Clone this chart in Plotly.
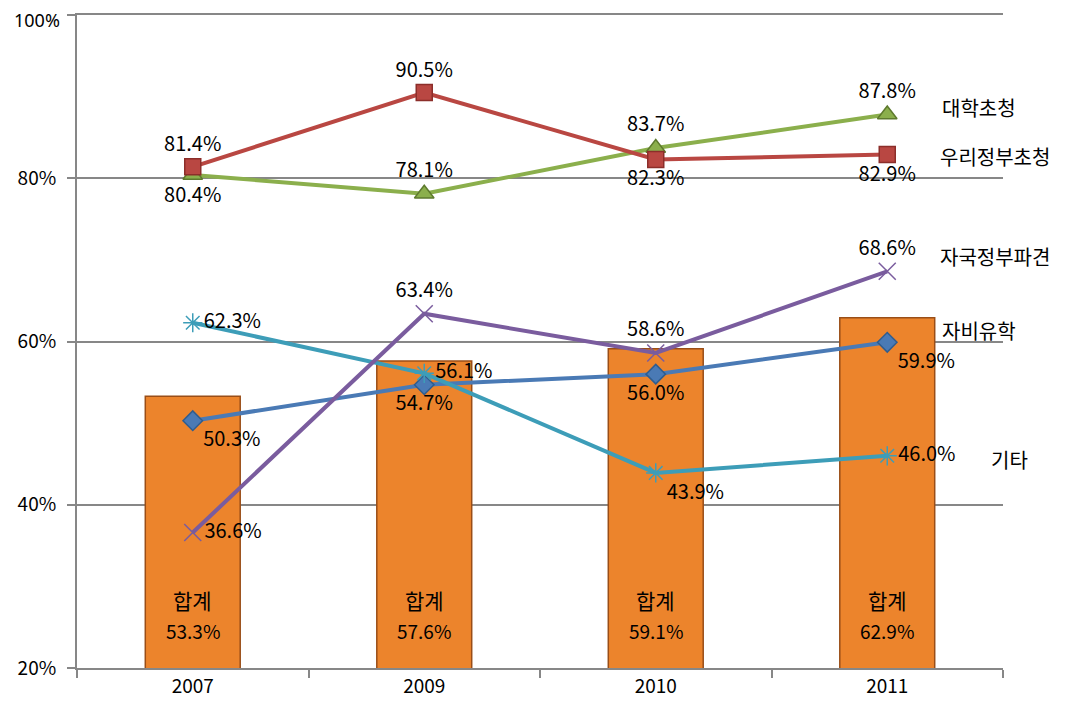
import plotly.graph_objects as go

years = ["2007", "2009", "2010", "2011"]
total = [53.3, 57.6, 59.1, 62.9]
univ_invite = [80.4, 78.1, 83.7, 87.8]      # 대학초청
gov_invite = [81.4, 90.5, 82.3, 82.9]       # 우리정부초청
home_gov = [36.6, 63.4, 58.6, 68.6]         # 자국정부파견
self_funded = [50.3, 54.7, 56.0, 59.9]      # 자비유학
other = [62.3, 56.1, 43.9, 46.0]            # 기타
y_ticks = [20, 40, 60, 80, 100]

FONT = "Noto Sans CJK KR, Noto Sans, sans-serif"
GRID = "#878787"

fig = go.Figure()

fig.add_trace(go.Bar(
    x=years, y=total, width=0.41,
    marker=dict(color="#EC842C", line=dict(color="#9A4E17", width=1.5)),
    hoverinfo="skip", showlegend=False,
))

def line(name, vals, color, symbol, size, positions, mline=None):
    fig.add_trace(go.Scatter(
        x=years, y=vals, name=name, mode="lines+markers+text",
        line=dict(color=color, width=4),
        marker=dict(symbol=symbol, size=size, color=color,
                    line=dict(color=mline or color, width=1.5)),
        text=[f"{v:.1f}%" for v in vals],
        textposition=positions,
        textfont=dict(family=FONT, size=20, color="#000000"),
        cliponaxis=False, showlegend=False,
    ))

line("자비유학", self_funded, "#4A7AB5", "diamond", 15,
     ["bottom right", "bottom center", "bottom center", "bottom right"], "#2F5D8F")
line("기타", other, "#3D9DB8", "asterisk-open", 16,
     ["middle right", "middle right", "bottom right", "middle right"])
line("자국정부파견", home_gov, "#7A5C9E", "x-thin-open", 17,
     ["middle right", "top center", "top center", "top center"])
line("대학초청", univ_invite, "#8BAF4C", "triangle-up", 17,
     ["bottom center", "top center", "top center", "top center"], "#5E7A2E")
line("우리정부초청", gov_invite, "#B94742", "square", 16,
     ["top center", "top center", "bottom center", "bottom center"], "#8C2E2A")

# series name labels on the right
names = ["대학초청", "우리정부초청", "자국정부파견", "자비유학", "기타"]
name_y = [88.7, 82.7, 70.4, 61.4, 45.6]
name_x = [0.932, 0.93, 0.93, 0.932, 0.985]
for n, yy, xx in zip(names, name_y, name_x):
    fig.add_annotation(x=xx, xref="paper", y=yy, yref="y", text=n,
                       showarrow=False, xanchor="left",
                       font=dict(family=FONT, size=20, color="#000000"))

# bar labels (category index used as x position)
for i, v in enumerate(total):
    fig.add_annotation(x=i, y=28.3, text="합계", showarrow=False,
                       font=dict(family=FONT, size=21, color="#000000"))
    fig.add_annotation(x=i, y=24.6, text=f"{v:.1f}%", showarrow=False,
                       font=dict(family=FONT, size=19, color="#000000"))

# top tick label drawn as annotation, nudged down so it stays inside the page
fig.add_annotation(x=0, xref="paper", y=y_ticks[-1], yref="y",
                   text=f"{y_ticks[-1]}%", showarrow=False, xanchor="right",
                   yanchor="top", borderpad=0,
                   xshift=-16, yshift=8,
                   font=dict(family="Noto Sans, sans-serif", size=18, color="#000000"))

# page body has an 8px margin: compensate so plot area matches reference
fig.update_layout(
    width=1073, height=715,
    margin=dict(l=69, r=78, t=7, b=55, autoexpand=False),
    plot_bgcolor="white", paper_bgcolor="white",
    font=dict(family=FONT, size=19, color="#000000"),
    bargap=0.59,
)
fig.update_xaxes(
    type="category", range=[-0.5, 3.5], tickson="boundaries",
    ticks="outside", ticklen=8, tickcolor=GRID, tickwidth=2,
    showline=True, linecolor=GRID, linewidth=2, mirror=True,
    showgrid=False, tickfont=dict(family=FONT, size=19), automargin=False,
)
fig.update_yaxes(
    range=[20, 100], tickvals=y_ticks,
    ticktext=[f"{t}%" if t != y_ticks[-1] else "" for t in y_ticks],
    ticks="outside", ticklen=8, tickcolor=GRID, tickwidth=2,
    showgrid=True, gridcolor=GRID, gridwidth=2,
    showline=True, linecolor=GRID, linewidth=2,
    zeroline=False, tickfont=dict(family=FONT, size=19), automargin=False,
    ticklabelstandoff=7,
)

fig.write_html("out.html")
